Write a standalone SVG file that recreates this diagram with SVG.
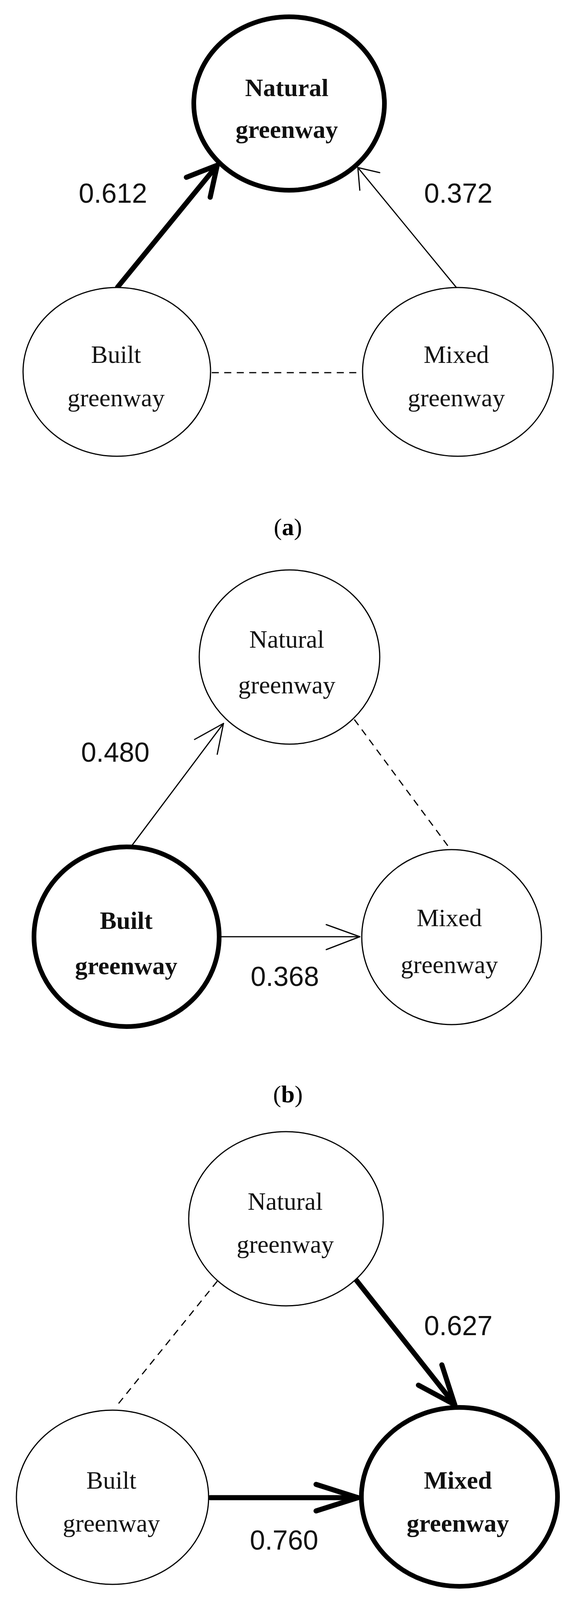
<svg xmlns="http://www.w3.org/2000/svg" width="1459" height="4336" viewBox="0 0 1459 4336">
<style>
.n{fill:#fff;stroke:#000;stroke-width:3}
.nb{fill:#fff;stroke:#000;stroke-width:12}
.t{font-family:"Liberation Serif",serif;font-size:64px;text-anchor:middle;fill:#111}
.tb{font-family:"Liberation Serif",serif;font-size:64px;font-weight:bold;text-anchor:middle;fill:#111}
.v{font-family:"Liberation Sans",sans-serif;font-size:70px;text-anchor:middle;fill:#111}
.cap{font-family:"Liberation Serif",serif;font-size:62px;text-anchor:middle;fill:#000}
.thin{fill:none;stroke:#000;stroke-width:3;stroke-linecap:round;stroke-linejoin:round}
.thick{fill:none;stroke:#000;stroke-width:13;stroke-linecap:round;stroke-linejoin:round}
.dash{fill:none;stroke:#000;stroke-width:3;stroke-dasharray:18 14}
</style>
<rect width="1459" height="4336" fill="#fff"/>
<g id="connectors">
<line class="thick" x1="301" y1="735" x2="556" y2="423"/>
<polyline class="thick" points="477,454 556,423 538,505"/>
<line class="thin" x1="1169" y1="737" x2="916" y2="429"/>
<polyline class="thin" points="972,442 916,429 921,487"/>
<line class="dash" x1="542" y1="954" x2="912" y2="954"/>
<line class="thin" x1="335" y1="2168" x2="572" y2="1852"/>
<polyline class="thin" points="498,1893 572,1852 556,1931"/>
<line class="thin" x1="561" y1="2398" x2="921" y2="2398"/>
<polyline class="thin" points="835,2367 921,2398 835,2431"/>
<line class="dash" x1="907" y1="1842" x2="1152" y2="2173"/>
<line class="thick" x1="907" y1="3271" x2="1164" y2="3596"/>
<polyline class="thick" points="1071,3546 1164,3596 1131,3494"/>
<line class="thick" x1="538" y1="3834" x2="916" y2="3834"/>
<polyline class="thick" points="809,3800 916,3834 809,3868"/>
<line class="dash" x1="556" y1="3280" x2="297" y2="3601"/>
</g>
<g id="a-natural"><ellipse class="nb" cx="740" cy="265" rx="244" ry="222"/><text class="tb" x="734" y="246">Natural</text><text class="tb" x="734" y="353">greenway</text></g>
<g id="a-built"><ellipse class="n" cx="299" cy="952" rx="240" ry="216"/><text class="t" x="297" y="929">Built</text><text class="t" x="297" y="1040">greenway</text></g>
<g id="a-mixed"><ellipse class="n" cx="1172" cy="952" rx="244" ry="216"/><text class="t" x="1168" y="929">Mixed</text><text class="t" x="1168" y="1040">greenway</text></g>
<g id="a-labels"><text class="v" x="289" y="519">0.612</text><text class="v" x="1173" y="519">0.372</text><text class="cap" x="737" y="1370">(<tspan font-weight="bold">a</tspan>)</text></g>
<g id="b-natural"><ellipse class="n" cx="741" cy="1682" rx="231" ry="223"/><text class="t" x="734" y="1658">Natural</text><text class="t" x="734" y="1775">greenway</text></g>
<g id="b-built"><ellipse class="nb" cx="324" cy="2398" rx="237" ry="230"/><text class="tb" x="323" y="2378">Built</text><text class="tb" x="323" y="2494">greenway</text></g>
<g id="b-mixed"><ellipse class="n" cx="1156" cy="2399" rx="230" ry="224"/><text class="t" x="1150" y="2371">Mixed</text><text class="t" x="1150" y="2491">greenway</text></g>
<g id="b-labels"><text class="v" x="295" y="1950">0.480</text><text class="v" x="729" y="2524">0.368</text><text class="cap" x="737" y="2822">(<tspan font-weight="bold">b</tspan>)</text></g>
<g id="c-natural"><ellipse class="n" cx="732" cy="3120" rx="249" ry="223"/><text class="t" x="730" y="3097">Natural</text><text class="t" x="730" y="3207">greenway</text></g>
<g id="c-built"><ellipse class="n" cx="288" cy="3833" rx="246" ry="223"/><text class="t" x="285" y="3811">Built</text><text class="t" x="285" y="3921">greenway</text></g>
<g id="c-mixed"><ellipse class="nb" cx="1176" cy="3832" rx="251" ry="229"/><text class="tb" x="1172" y="3811">Mixed</text><text class="tb" x="1172" y="3921">greenway</text></g>
<g id="c-labels"><text class="v" x="1173" y="3418">0.627</text><text class="v" x="727" y="3967">0.760</text><text class="cap" x="737" y="4284">(<tspan font-weight="bold">c</tspan>)</text></g>
</svg>
